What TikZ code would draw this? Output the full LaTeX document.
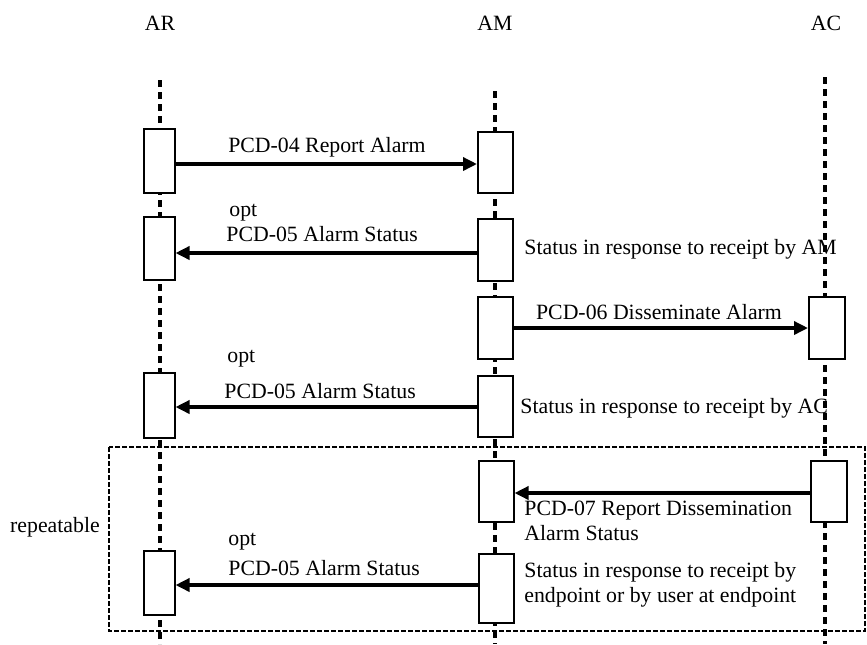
\documentclass[tikz,border=0pt]{standalone}
\usepackage{fontspec}
\setmainfont{Liberation Serif}
\usetikzlibrary{arrows.meta}
\begin{document}
\begin{tikzpicture}[x=0.5pt,y=-0.5pt,
  font=\fontsize{10.9pt}{12.5pt}\selectfont,
  life/.style={line width=1.6pt, dash pattern=on 3.5pt off 2.5pt},
  act/.style={draw, fill=white, line width=1pt, inner sep=0pt, minimum width=15.5pt},
  msg/.style={line width=1.7pt, -{Triangle[length=7pt,width=6.5pt]}},
  lbl/.style={inner sep=0pt, anchor=west, align=left},
  clbl/.style={inner sep=0pt},
  frame/.style={line width=1pt, dash pattern=on 2.5pt off 1pt}]
\useasboundingbox (0,0) rectangle (867,644);
% actor labels
\node[clbl] (tAR) at (160,23) {AR};
\node[clbl] (tAM) at (495,23) {AM};
\node[clbl] (tAC) at (826,23) {AC};
% lifelines
\coordinate (lARt) at (160,80);  \coordinate (lARb) at (160,644);
\coordinate (lAMt) at (495,91);  \coordinate (lAMb) at (495,644);
\coordinate (lACt) at (825,77);  \coordinate (lACb) at (825,644);
\draw[life] (lARt) -- (lARb);
\draw[life] (lAMt) -- (lAMb);
\draw[life] (lACt) -- (lACb);
% repeatable frame
\draw[frame] (109,447) rectangle (865,631);
\node[clbl] (rep) at (55,527) {repeatable};
% activation boxes
\node[act, minimum height=32pt] (ar1) at (159,161) {};
\node[act, minimum height=30.5pt, minimum width=17.5pt] (am1) at (495.5,162.5) {};
\node[act, minimum height=31.5pt] (ar2) at (159,248.5) {};
\node[act, minimum height=31pt, minimum width=17.5pt] (am2) at (495.5,250) {};
\node[act, minimum height=31pt, minimum width=17.5pt] (am3) at (495.5,328) {};
\node[act, minimum height=31pt, minimum width=18pt] (ac3) at (827,328) {};
\node[act, minimum height=32.5pt] (ar4) at (159,405.5) {};
\node[act, minimum height=30.5pt, minimum width=17.5pt] (am4) at (495.5,406.5) {};
\node[act, minimum height=30.5pt, minimum width=17.5pt] (am5) at (496,491.5) {};
\node[act, minimum height=30.5pt, minimum width=18pt] (ac5) at (829,491.5) {};
\node[act, minimum height=32pt] (ar6) at (159,583) {};
\node[act, minimum height=34.5pt, minimum width=17.5pt] (am6) at (496,588.5) {};
% messages
\draw[msg] (ar1.east |- 0,164) -- (am1.west |- 0,164);
\draw[msg] (am2.west |- 0,253) -- (ar2.east |- 0,253);
\draw[msg] (am3.east |- 0,328) -- (ac3.west |- 0,328);
\draw[msg] (am4.west |- 0,407) -- (ar4.east |- 0,407);
\draw[msg] (ac5.west |- 0,493) -- (am5.east |- 0,493);
\draw[msg] (am6.west |- 0,585) -- (ar6.east |- 0,585);
% labels
\node[clbl] (m1) at (327,147) {PCD-04 Report Alarm};
\node[lbl] (o1) at (229,213) {opt};
\node[lbl] (m2) at (226,234) {PCD-05 Alarm Status};
\node[lbl] (s2) at (524,249) {Status in response to receipt by AM};
\node[clbl] (m3) at (659,312) {PCD-06 Disseminate Alarm};
\node[lbl] (o4) at (227,359) {opt};
\node[lbl] (m4) at (224,391) {PCD-05 Alarm Status};
\node[lbl] (s4) at (520,408) {Status in response to receipt by AC};
\node[lbl] (m5) at (524,521) {PCD-07 Report Dissemination\\Alarm Status};
\node[lbl] (o6) at (228,542) {opt};
\node[lbl] (m6) at (228,568) {PCD-05 Alarm Status};
\node[lbl] (s6) at (524,585) {Status in response to receipt by\\endpoint or by user at endpoint};
\end{tikzpicture}
\end{document}
